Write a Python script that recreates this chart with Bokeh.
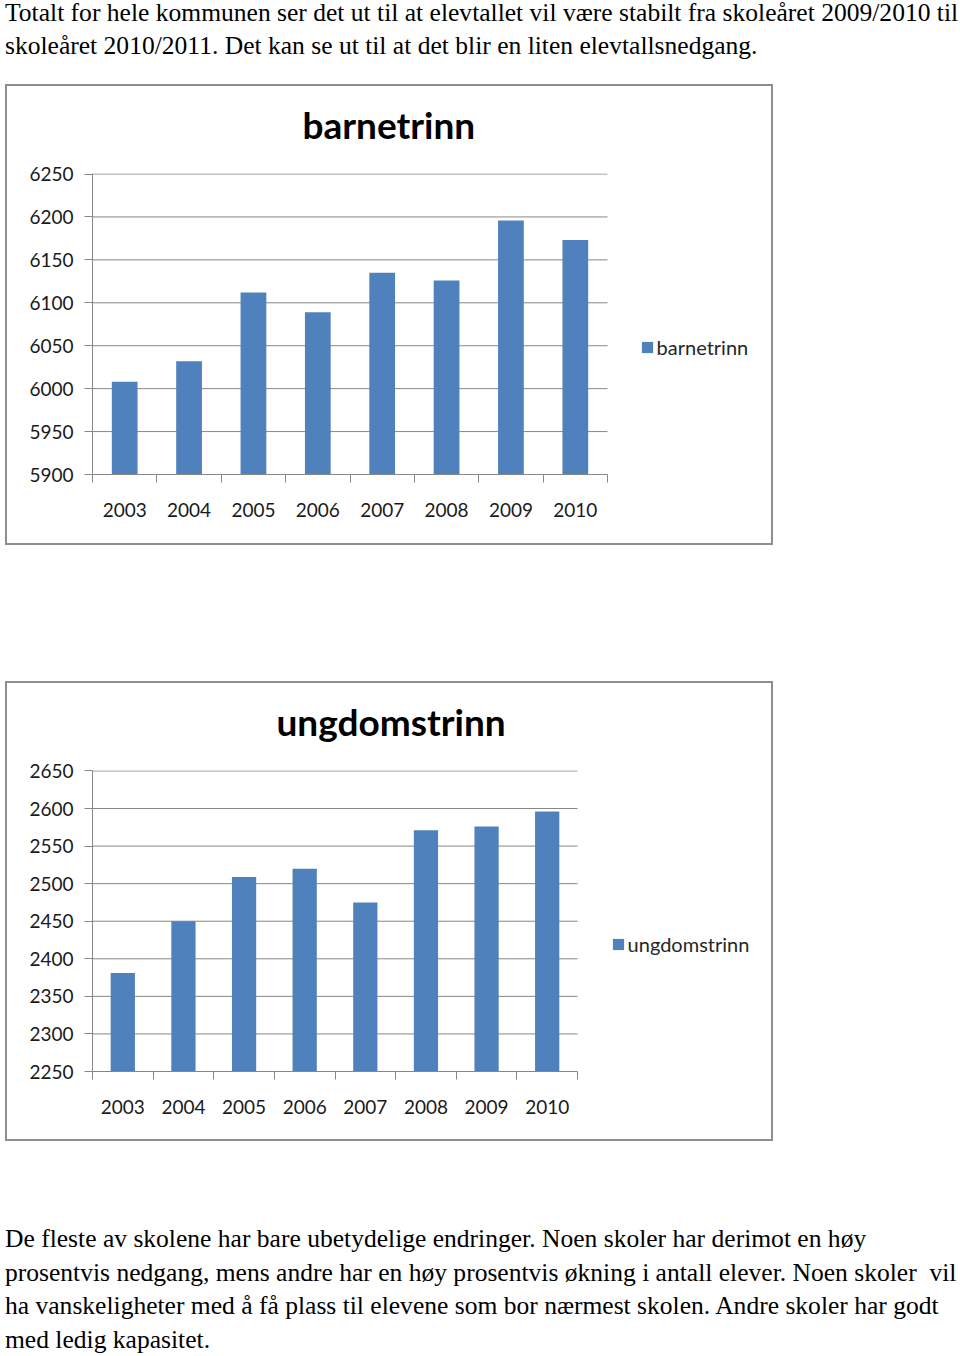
from bokeh.plotting import figure
from bokeh.models import (ColumnDataSource, FixedTicker, Legend, LegendItem, Div, Spacer,
                          Range1d, Title)
from bokeh.layouts import column
from bokeh.embed import file_html
from bokeh.resources import INLINE

years = ["2003", "2004", "2005", "2006", "2007", "2008", "2009", "2010"]
barnetrinn = [6008, 6032, 6112, 6089, 6135, 6126, 6196, 6173]
ungdomstrinn = [2381, 2450, 2509, 2520, 2475, 2571, 2576, 2596]
barn_ticks = [5900, 5950, 6000, 6050, 6100, 6150, 6200, 6250]
ungdom_ticks = [2250, 2300, 2350, 2400, 2450, 2500, 2550, 2600, 2650]

top_lines = [
    "Totalt for hele kommunen ser det ut til at elevtallet vil være stabilt fra skoleåret 2009/2010 til",
    "skoleåret 2010/2011. Det kan se ut til at det blir en liten elevtallsnedgang.",
]
bottom_lines = [
    "De fleste av skolene har bare ubetydelige endringer. Noen skoler har derimot en høy",
    "prosentvis nedgang, mens andre har en høy prosentvis økning i antall elever. Noen skoler&nbsp; vil",
    "ha vanskeligheter med å få plass til elevene som bor nærmest skolen. Andre skoler har godt",
    "med ledig kapasitet.",
]

BAR = "#4F81BD"
GRID = "#878787"
FRAME = "#8e8e8e"
SANS = "Lato"

FRAME_PX = 668  # full frame width (axis to near right border)


def make_chart(title, values, ticks, height, bottom, data_px, title_offset, legend_loc):
    n = len(years)
    xs = [i + 0.5 for i in range(n)]
    src = ColumnDataSource(dict(x=xs, top=values))
    grid_src = ColumnDataSource(dict(y=ticks[1:], x0=[0] * (len(ticks) - 1),
                                     x1=[n] * (len(ticks) - 1)))
    p = figure(width=768, height=height, x_range=Range1d(0, n * FRAME_PX / data_px),
               y_range=Range1d(ticks[0], ticks[-1] + 0.6),
               output_backend="svg", toolbar_location=None,
               min_border_left=85, min_border_right=15,
               min_border_top=87, min_border_bottom=bottom,
               title=None)
    p.styles = {"border": f"2px solid {FRAME}"}
    p.margin = (0, 0, 0, 5)
    p.outline_line_color = None
    p.background_fill_color = "white"
    p.border_fill_color = "white"
    p.grid.visible = False

    p.segment(x0="x0", x1="x1", y0="y", y1="y", source=grid_src,
              line_color=GRID, line_width=1)
    r = p.vbar(x="x", top="top", bottom=ticks[0], width=0.4, source=src,
               fill_color=BAR, line_color=None)

    # thin spacer between the frame and the title (keeps the title higher)
    gap = Title(text=" ", text_font_size="1px", standoff=24)
    p.add_layout(gap, "above")
    t = Title(text=title, align="left", offset=title_offset, standoff=0,
              text_font=SANS, text_font_size="37px", text_font_style="bold",
              text_color="black")
    p.add_layout(t, "above")

    ya = p.yaxis[0]
    ya.ticker = FixedTicker(ticks=ticks)
    ya.axis_line_color = GRID
    ya.major_tick_line_color = GRID
    ya.major_tick_out = 8
    ya.major_tick_in = 0
    ya.minor_tick_line_color = None
    ya.major_label_standoff = 11
    ya.major_label_text_font = SANS
    ya.major_label_text_font_size = "19px"
    ya.major_label_text_color = "#1a1a1a"

    xa = p.xaxis[0]
    xa.bounds = (0, n)
    xa.ticker = FixedTicker(ticks=xs, minor_ticks=list(range(n + 1)))
    xa.major_label_overrides = {x: y for x, y in zip(xs, years)}
    xa.axis_line_color = GRID
    xa.major_tick_line_color = None
    xa.major_tick_out = 0
    xa.major_tick_in = 0
    xa.minor_tick_line_color = GRID
    xa.minor_tick_out = 8
    xa.minor_tick_in = 0
    xa.major_label_standoff = 20
    xa.major_label_text_font = SANS
    xa.major_label_text_font_size = "19px"
    xa.major_label_text_color = "#1a1a1a"

    legend = Legend(items=[LegendItem(label=title, renderers=[r])],
                    location=legend_loc, orientation="vertical",
                    glyph_width=14, glyph_height=14, label_standoff=3,
                    label_height=20, padding=0, margin=0, spacing=0,
                    label_text_font=SANS, label_text_font_size="20px",
                    label_text_color="#262626",
                    border_line_color=None, background_fill_alpha=0)
    p.add_layout(legend, "center")
    return p


p1 = make_chart("barnetrinn", barnetrinn, barn_ticks, 461, 73, 515, 210, (547.6, 115))
p2 = make_chart("ungdomstrinn", ungdomstrinn, ungdom_ticks, 460, 72, 485, 184, (518.6, 115))

font = "font-family:'Liberation Serif';font-size:25.55px;color:black;white-space:nowrap;"
top_html = (f"<div style=\"{font}line-height:16.6px;\">{top_lines[0]}</div>"
            f"<div style=\"{font}line-height:33.6px;margin-top:7px;\">{top_lines[1]}</div>")
top_div = Div(text=top_html, width=960, height=74)
bottom_div = Div(text=f"<div style=\"{font}line-height:33.6px;padding-top:76px;\">"
                 + "<br>".join(bottom_lines) + "</div>", width=960, height=205)

layout = column(top_div, p1, Spacer(height=136), p2, bottom_div, spacing=0)

open("out.html", "w").write(file_html(layout, INLINE))
